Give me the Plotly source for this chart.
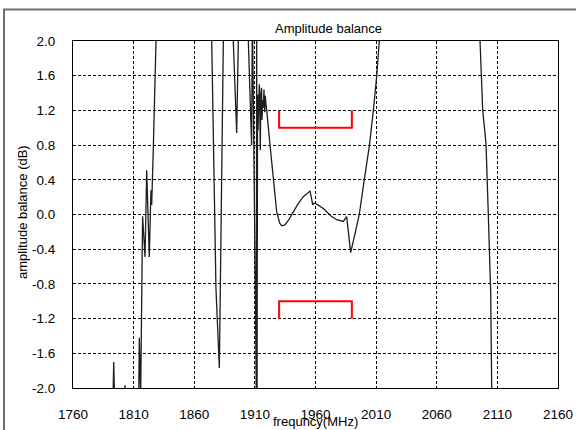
import plotly.graph_objects as go

# Measured amplitude balance trace (MHz, dB); values outside +/-2 are off-scale
freq = [1760, 1793.0, 1793.6, 1794.2, 1802.5, 1802.9, 1803.3,
        1814.2, 1814.7, 1815.2, 1815.8, 1817.4, 1819.4, 1820.8, 1822.9, 1824.3, 1824.9, 1826.2, 1828.5, 1829.0,
        1873.9, 1874.4, 1877.9, 1880.7, 1884.0, 1884.5,
        1891.8, 1892.2, 1895.0, 1896.3, 1896.7,
        1904.2, 1904.6, 1907.3, 1907.9, 1908.2, 1910.5, 1911.2, 1911.5, 1911.8,
        1912.2, 1912.6, 1913.2, 1913.7, 1914.1, 1914.5, 1914.9, 1915.5, 1915.9, 1916.5, 1917.0, 1917.5,
        1918.1, 1918.6, 1919.2, 1919.8,
        1922.5, 1925.2, 1928.0, 1930.5, 1932.1, 1934.8, 1938.0, 1941.7, 1945.5, 1949.9, 1953.0, 1955.5,
        1956.5, 1957.7, 1958.8, 1961.0, 1966.4, 1969.2, 1973.0, 1977.5, 1982.9, 1985.7, 1987.1, 1989.0,
        1992.6, 1996.1, 2000.0, 2004.5, 2007.7, 2010.5, 2012.6, 2013.2,
        2095.3, 2095.7, 2097.9, 2100.6, 2102.5, 2104.5, 2105.3, 2105.6, 2160]
amp = [-2.6, -2.1, -1.70, -2.1, -2.05, -1.97, -2.05,
       -2.1, -1.42, -2.1, -2.1, -0.02, -0.49, 0.51, -0.49, 0.28, 0.11, 0.74, 2.0, 2.3,
       2.3, 2.0, -0.85, -1.77, 2.0, 2.3,
       2.3, 2.0, 0.94, 2.0, 2.3,
       2.3, 2.0, 0.80, 2.2, 2.0, -1.02, -2.2, 2.2, -2.2,
       1.38, 0.97, 1.32, 1.50, 1.15, 0.74, 1.38, 1.46, 1.09, 1.32, 1.23, 1.44,
       1.18, 1.37, 1.26, 1.20,
       0.80, 0.40, 0.03, -0.10, -0.13, -0.12, -0.06, 0.03, 0.12, 0.205, 0.24, 0.27,
       0.20, 0.11, 0.13, 0.12, 0.07, 0.03, -0.02, -0.06, -0.08, -0.025, -0.20, -0.44,
       -0.22, 0.0, 0.38, 0.80, 1.20, 1.60, 2.0, 2.3,
       2.3, 2.0, 1.2, 0.82, 0.01, -0.91, -1.99, -2.3, -2.6]

# Specification limit brackets
spec_x = [1930, 1930, 1990, 1990]
spec_upper = [1.2, 1.0, 1.0, 1.2]
spec_lower = [-1.2, -1.0, -1.0, -1.2]

x_ticks = [1760, 1810, 1860, 1910, 1960, 2010, 2060, 2110, 2160]
y_ticks = [-2.0, -1.6, -1.2, -0.8, -0.4, 0.0, 0.4, 0.8, 1.2, 1.6, 2.0]

FONT = "Liberation Sans"

fig = go.Figure()
fig.add_trace(go.Scatter(x=freq, y=amp, mode="lines",
                         line=dict(color="#1e1e1e", width=1.3), showlegend=False))
fig.add_trace(go.Scatter(x=spec_x, y=spec_upper, mode="lines",
                         line=dict(color="#ff0000", width=2), showlegend=False))
fig.add_trace(go.Scatter(x=spec_x, y=spec_lower, mode="lines",
                         line=dict(color="#ff0000", width=2), showlegend=False))

L, R, T, B = 73, 18, 41, 42
W, H = 576, 430
pw, ph = W - L - R, H - T - B

def px(xp):
    return (xp - L) / pw

def py(yp):
    return (H - B - yp) / ph

fig.update_layout(
    width=W, height=H,
    margin=dict(l=L, r=R, t=T, b=B, autoexpand=False),
    paper_bgcolor="white", plot_bgcolor="white",
    font=dict(family=FONT, size=13, color="black"),
    xaxis=dict(range=[1760, 2160], tickvals=x_ticks, ticktext=[str(v) for v in x_ticks],
               showgrid=True, gridcolor="black", gridwidth=1, griddash="3px,2px",
               showline=True, linecolor="black", linewidth=1, mirror=True,
               ticks="", ticklabelstandoff=14, zeroline=False, automargin=False,
               tickfont=dict(family=FONT, size=13.5)),
    yaxis=dict(range=[-2.0, 2.0], tickvals=y_ticks, ticktext=[f"{v:.1f}" for v in y_ticks],
               showgrid=True, gridcolor="black", gridwidth=1, griddash="3px,2px",
               showline=True, linecolor="black", linewidth=1, mirror=True,
               ticks="", ticklabelstandoff=14, zeroline=False, automargin=False,
               tickfont=dict(family=FONT, size=13.5)),
    shapes=[dict(type="rect", xref="paper", yref="paper",
                 x0=px(4), x1=px(590), y0=py(445), y1=py(9.5),
                 line=dict(color="#6e6e6e", width=2), layer="below")],
    annotations=[
        dict(text="Amplitude balance", xref="paper", yref="paper",
             x=px(328), y=py(28), showarrow=False, xanchor="center", yanchor="middle",
             font=dict(family=FONT, size=13)),
        dict(text="frequncy(MHz)", xref="paper", yref="paper",
             x=px(315), y=py(421), showarrow=False, xanchor="center", yanchor="middle",
             font=dict(family=FONT, size=13)),
        dict(text="amplitude balance (dB)", xref="paper", yref="paper",
             x=px(22), y=py(212), showarrow=False, xanchor="center", yanchor="middle",
             textangle=-90, font=dict(family=FONT, size=13)),
    ],
)

fig.write_html("out.html", config={"displayModeBar": False},
               post_script="document.body.style.margin='0px';document.body.style.overflow='hidden';")
